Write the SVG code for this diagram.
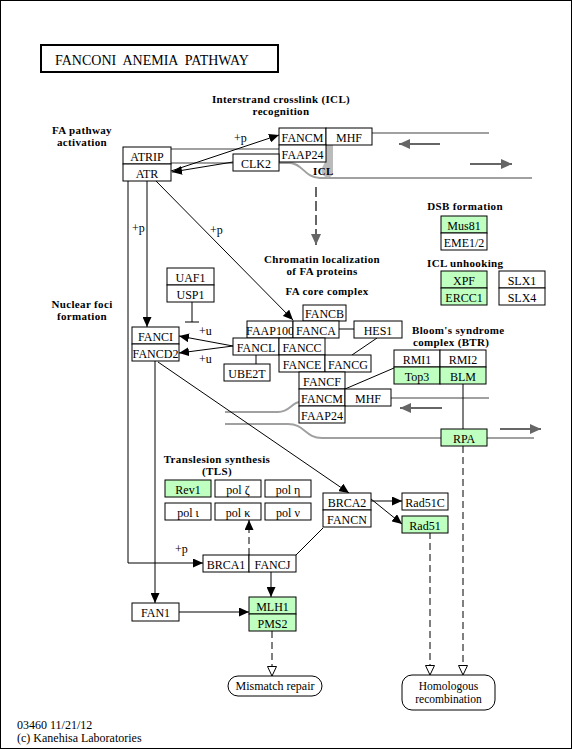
<svg xmlns="http://www.w3.org/2000/svg" width="572" height="749" viewBox="0 0 572 749">
<style>
.bx{fill:#fff;stroke:#000;stroke-width:1}
.gr{fill:#bfffbf;stroke:#000;stroke-width:1}
.t{font-family:"Liberation Serif",serif;font-size:12px;text-anchor:middle;fill:#000}
.lb{font-family:"Liberation Serif",serif;font-size:11px;font-weight:bold;letter-spacing:0.35px;text-anchor:middle;fill:#000}
.lbl{font-family:"Liberation Serif",serif;font-size:11px;font-weight:bold;letter-spacing:0.35px;fill:#000}
.rg{font-family:"Liberation Serif",serif;font-size:12px;fill:#000}
.ln{stroke:#000;stroke-width:1;fill:none}
.ds{stroke:#000;stroke-width:1;fill:none;stroke-dasharray:7,4}
.st{stroke:#a0a0a0;stroke-width:2;fill:none}
.ga{stroke:#666;stroke-width:2;fill:none}
</style>
<defs>
<marker id="ah" markerUnits="userSpaceOnUse" markerWidth="11" markerHeight="9" refX="10" refY="4.5" orient="auto"><path d="M0,0 L10,4.5 L0,9 z" fill="#000"/></marker>
<marker id="oh" markerUnits="userSpaceOnUse" markerWidth="11" markerHeight="10" refX="10" refY="5" orient="auto"><path d="M0.5,0.5 L10,5 L0.5,9.5 z" fill="#fff" stroke="#000" stroke-width="1"/></marker>
<marker id="gh" markerUnits="userSpaceOnUse" markerWidth="12" markerHeight="10" refX="11" refY="5" orient="auto"><path d="M0,0 L11,5 L0,10 z" fill="#666"/></marker>
</defs>
<rect x="0.5" y="0.5" width="571" height="748" fill="#fff" stroke="#000" stroke-width="1"/>
<g id="title">
<rect x="41" y="45" width="237" height="27" fill="#fff" stroke="#000" stroke-width="2"/>
<text x="55" y="65" font-family="Liberation Serif, serif" font-size="14" xml:space="preserve" style="white-space:pre">FANCONI  ANEMIA  PATHWAY</text>
</g>
<g id="strands">
<line class="st" x1="171" y1="149" x2="279" y2="149"/>
<line class="st" x1="372" y1="133" x2="489" y2="133"/>
<path class="st" d="M171,163 L290,163 C302,163 305,178 320,178 L532,178"/>
<path d="M326,145 L333,145 L333,172 C333,176 330,178 326,177 C323,176 320,172 322,168 L326,160 Z" fill="#bbb"/>
<line class="ga" x1="440" y1="144" x2="399" y2="144" marker-end="url(#gh)"/>
<line class="ga" x1="470" y1="164" x2="512" y2="164" marker-end="url(#gh)"/>
<line class="st" x1="391" y1="398" x2="489" y2="398"/>
<path class="st" d="M225,412 L278,412 C290,412 292,402 300,402"/>
<path class="st" d="M225,424 L288,424 C305,424 305,438 322,438 L534,438"/>
<line class="ga" x1="442" y1="408" x2="400" y2="408" marker-end="url(#gh)"/>
<line class="ga" x1="500" y1="429" x2="541" y2="429" marker-end="url(#gh)"/>
<text class="lbl" x="313" y="175">ICL</text>
</g>
<g id="connectors">
<line class="ln" x1="171" y1="171" x2="279" y2="135" marker-end="url(#ah)"/>
<line class="ln" x1="233" y1="162" x2="172" y2="172" marker-end="url(#ah)"/>
<line class="ln" x1="147" y1="181" x2="147" y2="327" marker-end="url(#ah)"/>
<polyline class="ln" points="128,181 128,563 203,563" marker-end="url(#ah)"/>
<line class="ln" x1="156" y1="181" x2="293" y2="320" marker-end="url(#ah)"/>
<line class="ln" x1="192" y1="302" x2="192" y2="322"/>
<line class="ln" x1="185" y1="322" x2="199" y2="322"/>
<line class="ln" x1="233" y1="346" x2="179" y2="336" marker-end="url(#ah)"/>
<line class="ln" x1="233" y1="346" x2="179" y2="353" marker-end="url(#ah)"/>
<line class="ln" x1="256" y1="355" x2="256" y2="364"/>
<line class="ln" x1="339" y1="329" x2="354" y2="329"/>
<line class="ln" x1="377" y1="338" x2="352" y2="355"/>
<line class="ln" x1="345" y1="389" x2="394" y2="368"/>
<line class="ln" x1="463" y1="384" x2="463" y2="429"/>
<line class="ln" x1="158" y1="362" x2="349" y2="493" marker-end="url(#ah)"/>
<line class="ln" x1="155" y1="361" x2="155" y2="603" marker-end="url(#ah)"/>
<line class="ln" x1="179" y1="612" x2="249" y2="612" marker-end="url(#ah)"/>
<line class="ln" x1="271" y1="572" x2="271" y2="597" marker-end="url(#ah)"/>
<line class="ds" x1="249" y1="555" x2="249" y2="520" marker-end="url(#ah)"/>
<line class="ln" x1="296" y1="555" x2="323" y2="528"/>
<line class="ln" x1="371" y1="501" x2="402" y2="501" marker-end="url(#ah)"/>
<line class="ln" x1="371" y1="499" x2="402" y2="524" marker-end="url(#ah)"/>
<line class="ds" x1="430" y1="532" x2="430" y2="675" marker-end="url(#oh)"/>
<line class="ds" x1="463" y1="446" x2="463" y2="675" marker-end="url(#oh)"/>
<line class="ds" x1="272" y1="631" x2="272" y2="676" marker-end="url(#oh)"/>
<line x1="316" y1="187" x2="316" y2="245" stroke="#666" stroke-width="2" stroke-dasharray="10,4" marker-end="url(#gh)"/>
<text class="rg" x="234" y="142">+p</text>
<text class="rg" x="132" y="232">+p</text>
<text class="rg" x="210" y="234">+p</text>
<text class="rg" x="175" y="553">+p</text>
<text class="rg" x="199" y="335">+u</text>
<text class="rg" x="199" y="363">+u</text>
</g>
<g id="labels">
<text class="lb" x="281" y="103">Interstrand crosslink (ICL)</text>
<text class="lb" x="281" y="115">recognition</text>
<text class="lb" x="82" y="134">FA pathway</text>
<text class="lb" x="82" y="146">activation</text>
<text class="lb" x="82" y="308">Nuclear foci</text>
<text class="lb" x="82" y="320">formation</text>
<text class="lb" x="322" y="263">Chromatin localization</text>
<text class="lb" x="322" y="275">of FA proteins</text>
<text class="lb" x="327" y="295">FA core complex</text>
<text class="lb" x="465" y="210">DSB formation</text>
<text class="lbl" x="427" y="267">ICL unhooking</text>
<text class="lbl" x="412" y="334">Bloom's syndrome</text>
<text class="lbl" x="413" y="346">complex (BTR)</text>
<text class="lb" x="217" y="463">Translesion synthesis</text>
<text class="lb" x="217" y="475">(TLS)</text>
</g>
<g id="ATRIP"><rect class="bx" x="123" y="147" width="48" height="17"/><text class="t" x="147" y="160.5">ATRIP</text></g>
<g id="ATR"><rect class="bx" x="123" y="164" width="48" height="17"/><text class="t" x="147" y="177.5">ATR</text></g>
<g id="FANCM_top"><rect class="bx" x="279" y="128" width="47" height="17"/><text class="t" x="302.5" y="141.5">FANCM</text></g>
<g id="MHF_top"><rect class="bx" x="326" y="128" width="46" height="17"/><text class="t" x="349" y="141.5">MHF</text></g>
<g id="FAAP24_top"><rect class="bx" x="279" y="145" width="47" height="17"/><text class="t" x="302.5" y="158.5">FAAP24</text></g>
<g id="CLK2"><rect class="bx" x="233" y="154" width="46" height="17"/><text class="t" x="256" y="167.5">CLK2</text></g>
<g id="Mus81"><rect class="gr" x="441" y="216" width="46" height="17"/><text class="t" x="464" y="229.5">Mus81</text></g>
<g id="EME1_2"><rect class="bx" x="441" y="233" width="46" height="17"/><text class="t" x="464" y="246.5">EME1/2</text></g>
<g id="XPF"><rect class="gr" x="441" y="271" width="46" height="17"/><text class="t" x="464" y="284.5">XPF</text></g>
<g id="ERCC1"><rect class="gr" x="441" y="288" width="46" height="17"/><text class="t" x="464" y="301.5">ERCC1</text></g>
<g id="SLX1"><rect class="bx" x="499" y="271" width="46" height="17"/><text class="t" x="522" y="284.5">SLX1</text></g>
<g id="SLX4"><rect class="bx" x="499" y="288" width="46" height="17"/><text class="t" x="522" y="301.5">SLX4</text></g>
<g id="UAF1"><rect class="bx" x="167" y="268" width="47" height="17"/><text class="t" x="190.5" y="281.5">UAF1</text></g>
<g id="USP1"><rect class="bx" x="167" y="285" width="47" height="17"/><text class="t" x="190.5" y="298.5">USP1</text></g>
<g id="FANCI"><rect class="bx" x="132" y="327" width="47" height="17"/><text class="t" x="155.5" y="340.5">FANCI</text></g>
<g id="FANCD2"><rect class="bx" x="132" y="344" width="47" height="17"/><text class="t" x="155.5" y="357.5">FANCD2</text></g>
<g id="FANCB"><rect class="bx" x="303" y="305" width="43" height="16"/><text class="t" x="324.5" y="317.5">FANCB</text></g>
<g id="FAAP100"><rect class="bx" x="247" y="321" width="46" height="17"/><text class="t" x="270" y="334.5">FAAP100</text></g>
<g id="FANCA"><rect class="bx" x="293" y="321" width="46" height="17"/><text class="t" x="316" y="334.5">FANCA</text></g>
<g id="HES1"><rect class="bx" x="354" y="321" width="48" height="17"/><text class="t" x="378" y="334.5">HES1</text></g>
<g id="FANCL"><rect class="bx" x="233" y="338" width="46" height="17"/><text class="t" x="256" y="351.5">FANCL</text></g>
<g id="FANCC"><rect class="bx" x="279" y="338" width="46" height="17"/><text class="t" x="302" y="351.5">FANCC</text></g>
<g id="UBE2T"><rect class="bx" x="224" y="364" width="46" height="17"/><text class="t" x="247" y="377.5">UBE2T</text></g>
<g id="FANCE"><rect class="bx" x="279" y="355" width="46" height="17"/><text class="t" x="302" y="368.5">FANCE</text></g>
<g id="FANCG"><rect class="bx" x="325" y="355" width="46" height="17"/><text class="t" x="348" y="368.5">FANCG</text></g>
<g id="FANCF"><rect class="bx" x="299" y="372" width="46" height="17"/><text class="t" x="322" y="385.5">FANCF</text></g>
<g id="FANCM"><rect class="bx" x="299" y="389" width="46" height="17"/><text class="t" x="322" y="402.5">FANCM</text></g>
<g id="MHF"><rect class="bx" x="345" y="389" width="46" height="17"/><text class="t" x="368" y="402.5">MHF</text></g>
<g id="FAAP24"><rect class="bx" x="299" y="406" width="46" height="17"/><text class="t" x="322" y="419.5">FAAP24</text></g>
<g id="RMI1"><rect class="bx" x="394" y="350" width="46" height="17"/><text class="t" x="417" y="363.5">RMI1</text></g>
<g id="RMI2"><rect class="bx" x="440" y="350" width="46" height="17"/><text class="t" x="463" y="363.5">RMI2</text></g>
<g id="Top3"><rect class="gr" x="394" y="367" width="46" height="17"/><text class="t" x="417" y="380.5">Top3</text></g>
<g id="BLM"><rect class="gr" x="440" y="367" width="46" height="17"/><text class="t" x="463" y="380.5">BLM</text></g>
<g id="RPA"><rect class="gr" x="441" y="429" width="46" height="17"/><text class="t" x="464" y="442.5">RPA</text></g>
<g id="Rev1"><rect class="gr" x="165" y="480" width="46" height="17"/><text class="t" x="188" y="493.5">Rev1</text></g>
<g id="polzeta"><rect class="bx" x="215" y="480" width="46" height="17"/><text class="t" x="238" y="493.5">pol ζ</text></g>
<g id="poleta"><rect class="bx" x="265" y="480" width="46" height="17"/><text class="t" x="288" y="493.5">pol η</text></g>
<g id="poliota"><rect class="bx" x="165" y="503" width="46" height="17"/><text class="t" x="188" y="516.5">pol ι</text></g>
<g id="polkappa"><rect class="bx" x="215" y="503" width="46" height="17"/><text class="t" x="238" y="516.5">pol κ</text></g>
<g id="polnu"><rect class="bx" x="265" y="503" width="46" height="17"/><text class="t" x="288" y="516.5">pol ν</text></g>
<g id="BRCA2"><rect class="bx" x="323" y="493" width="48" height="17"/><text class="t" x="347" y="506.5">BRCA2</text></g>
<g id="FANCN"><rect class="bx" x="323" y="510" width="48" height="17"/><text class="t" x="347" y="523.5">FANCN</text></g>
<g id="Rad51C"><rect class="bx" x="402" y="493" width="46" height="17"/><text class="t" x="425" y="506.5">Rad51C</text></g>
<g id="Rad51"><rect class="gr" x="402" y="516" width="46" height="17"/><text class="t" x="425" y="529.5">Rad51</text></g>
<g id="BRCA1"><rect class="bx" x="203" y="555" width="46" height="17"/><text class="t" x="226" y="568.5">BRCA1</text></g>
<g id="FANCJ"><rect class="bx" x="249" y="555" width="47" height="17"/><text class="t" x="272.5" y="568.5">FANCJ</text></g>
<g id="FAN1"><rect class="bx" x="132" y="603" width="47" height="18"/><text class="t" x="155.5" y="616.5">FAN1</text></g>
<g id="MLH1"><rect class="gr" x="249" y="597" width="47" height="17"/><text class="t" x="272.5" y="610.5">MLH1</text></g>
<g id="PMS2"><rect class="gr" x="249" y="614" width="47" height="17"/><text class="t" x="272.5" y="627.5">PMS2</text></g>
<g id="mismatch_repair"><rect class="bx" x="228" y="676" width="94" height="20" rx="10"/><text class="t" x="275" y="690">Mismatch repair</text></g>
<g id="homologous_recombination"><rect class="bx" x="402" y="675" width="93" height="35" rx="10"/><text class="t" x="448.5" y="690" style="font-size:11.5px">Homologous</text><text class="t" x="448.5" y="703" style="font-size:11.5px">recombination</text></g>
<g id="footer">
<text class="rg" x="17" y="729">03460 11/21/12</text>
<text class="rg" x="17" y="742">(c) Kanehisa Laboratories</text>
</g>
</svg>
